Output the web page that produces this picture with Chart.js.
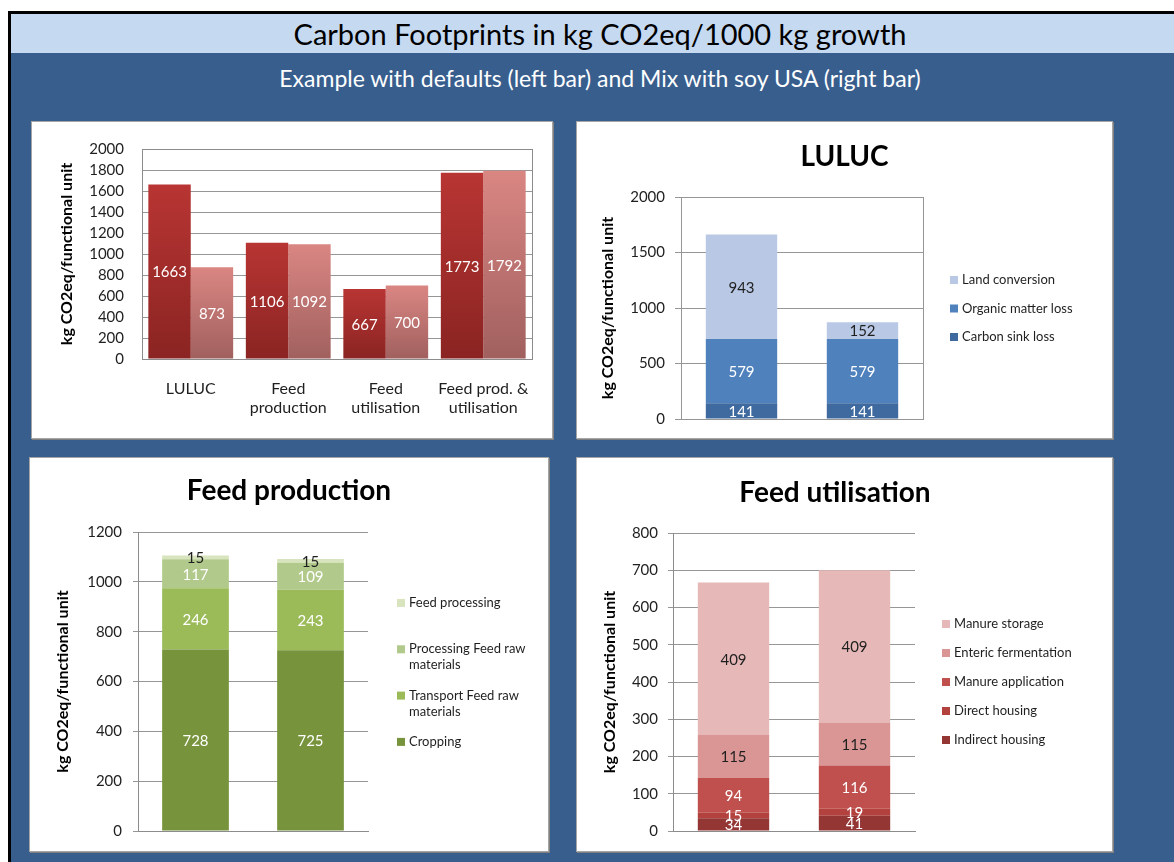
<!DOCTYPE html>
<html>
<head>
<meta charset="utf-8">
<script src="https://cdn.jsdelivr.net/npm/chart.js@4.4.1/dist/chart.umd.min.js"></script>
<style>
  html, body { margin: 0; padding: 0; background: #fff; }
  body { width: 1174px; height: 862px; position: relative; overflow: hidden; font-family: Lato, "Open Sans", sans-serif; }
  #frame { position: absolute; left: 8px; top: 11px; width: 1200px; height: 900px; border-left: 3px solid #000; border-top: 3px solid #000; background: #385e8e; }
  #band { position: absolute; left: 11px; top: 14px; width: 1200px; height: 39px; background: #c5d9f1; }
  #title { position: absolute; left: 0; width: 1200px; top: 17px; text-align: center; font-size: 29px; color: #000; line-height: 34px; }
  #subtitle { position: absolute; left: 0; width: 1200px; top: 64px; text-align: center; font-size: 23px; color: #fff; line-height: 28px; }
  .panel { position: absolute; background: #fff; border: 1px solid #a5a5a5; box-shadow: 1px 1px 0 #808080; }
  .panel canvas { display: block; }
</style>
</head>
<body>
<div id="frame"></div>
<div id="band"></div>
<div id="title">Carbon Footprints in kg CO2eq/1000 kg growth</div>
<div id="subtitle">Example with defaults (left bar) and Mix with soy USA (right bar)</div>

<div class="panel" style="left:31px;top:121px;width:520px;height:316px"><canvas id="overview" width="520" height="316"></canvas></div>
<div class="panel" style="left:576px;top:121px;width:535px;height:316px"><canvas id="luluc" width="535" height="316"></canvas></div>
<div class="panel" style="left:29px;top:457px;width:518px;height:393px"><canvas id="feedprod" width="518" height="393"></canvas></div>
<div class="panel" style="left:576px;top:457px;width:535px;height:393px"><canvas id="feeduse" width="535" height="393"></canvas></div>

<script>
// --- DATA ---
const scenarios = ['Defaults', 'Mix with soy USA'];

const overviewCats = ['LULUC', ['Feed', 'production'], ['Feed', 'utilisation'], ['Feed prod. &', 'utilisation']];
const overviewDefaults = [1663, 1106, 667, 1773];
const overviewSoyUSA   = [873, 1092, 700, 1792];

const lulucCarbonSink  = [141, 141];
const lulucOrganic     = [579, 579];
const lulucLandConv    = [943, 152];

const fpCropping       = [728, 725];
const fpTransport      = [246, 243];
const fpProcessingRaw  = [117, 109];
const fpFeedProcessing = [15, 15];

const fuIndirect       = [34, 41];
const fuDirect         = [15, 19];
const fuManureApp      = [94, 116];
const fuEnteric        = [115, 115];
const fuManureStorage  = [409, 409];

const yTitle = 'kg CO2eq/functional unit';

// --- réglages communs ---
Chart.defaults.font.family = 'Lato, "Open Sans", sans-serif';
Chart.defaults.color = '#1f1f1f';
Chart.defaults.animation = false;

// etiquettes de valeur au milieu de chaque segment
const valueLabels = {
  id: 'valueLabels',
  afterDatasetsDraw(chart) {
    const ctx = chart.ctx;
    ctx.save();
    ctx.font = '15px Lato, "Open Sans", sans-serif';
    ctx.textAlign = 'center';
    ctx.textBaseline = 'middle';
    chart.data.datasets.forEach((ds, i) => {
      const meta = chart.getDatasetMeta(i);
      meta.data.forEach((bar, j) => {
        ctx.fillStyle = ds.labelColor || '#fff';
        ctx.fillText(String(ds.data[j]), bar.x, (bar.y + bar.base) / 2 + 1);
      });
    });
    ctx.restore();
  }
};

// legende a droite (ordre inverse, comme Excel)
const sideLegend = {
  id: 'sideLegend',
  afterDraw(chart, args, opts) {
    if (!opts || opts.x === undefined) return;
    const ctx = chart.ctx;
    ctx.save();
    ctx.font = '13px Lato, "Open Sans", sans-serif';
    ctx.textBaseline = 'middle';
    ctx.textAlign = 'left';
    chart.data.datasets.slice().reverse().forEach((ds, k) => {
      const y = opts.y + k * opts.gap;
      ctx.fillStyle = ds.backgroundColor;
      ctx.fillRect(opts.x, y - 4, 8, 8);
      ctx.fillStyle = '#1f1f1f';
      ds.label.split('\n').forEach((line, n) => ctx.fillText(line, opts.x + 12, y + n * 16));
    });
    ctx.restore();
  }
};

// cadre de la zone de tracé
const plotBorder = {
  id: 'plotBorder',
  beforeDatasetsDraw(chart, args, opts) {
    if (!opts || !opts.color) return;
    const {ctx, chartArea: a} = chart;
    ctx.save();
    ctx.strokeStyle = opts.color;
    ctx.lineWidth = 1;
    ctx.strokeRect(Math.round(a.left) + 0.5, Math.round(a.top) + 0.5, Math.round(a.width), Math.round(a.height));
    ctx.restore();
  }
};

Chart.register(valueLabels, sideLegend, plotBorder);

function barGradient(top, bottom) {
  return (c) => {
    const {ctx, chartArea, scales} = c.chart;
    if (!chartArea || !c.parsed) return bottom;
    const y0 = scales.y.getPixelForValue(c.parsed.y);
    const y1 = scales.y.getPixelForValue(0);
    const g = ctx.createLinearGradient(0, y0, 0, y1);
    g.addColorStop(0, top);
    g.addColorStop(1, bottom);
    return g;
  };
}

// axe y : largeur fixe, titre place avec titlePad
function yAxis(max, step, width, titlePad, tickLen, pad, stacked) {
  return {
    stacked: stacked,
    min: 0, max: max,
    ticks: { stepSize: step, padding: pad, font: { size: 15 }, color: '#1f1f1f', callback: (v) => String(v) },
    grid: { color: '#969696', drawTicks: tickLen > 0, tickLength: tickLen, tickColor: '#969696' },
    border: { display: true, color: '#8c8c8c' },
    title: { display: true, text: yTitle, color: '#000', font: { size: 16, weight: 'bold' }, padding: { top: titlePad, bottom: 0 } },
    afterFit: (s) => { s.width = width; }
  };
}

// axe vide a droite : reserve la place de la legende
function spacerAxis(width) {
  return {
    position: 'right',
    ticks: { display: false },
    grid: { display: false, drawTicks: false },
    border: { display: false },
    afterFit: (s) => { s.width = width; }
  };
}

function stackedX() {
  return {
    stacked: true,
    ticks: { display: false },
    grid: { display: false, drawTicks: false },
    border: { display: true, color: '#8c8c8c' },
    afterFit: (s) => { s.height = 0; }
  };
}

function titleOpts(text, padTop, padBottom) {
  return { display: true, text: text, color: '#000', font: { size: 28, weight: 'bold' }, padding: { top: padTop, bottom: padBottom } };
}

// --- 1 : vue d'ensemble ---
new Chart(document.getElementById('overview'), {
  type: 'bar',
  data: {
    labels: overviewCats,
    datasets: [
      { label: scenarios[0], data: overviewDefaults, backgroundColor: barGradient('#b83533', '#8a2422'), labelColor: '#fff',
        categoryPercentage: 0.87, barPercentage: 1.0 },
      { label: scenarios[1], data: overviewSoyUSA, backgroundColor: barGradient('#da8683', '#a0605e'), labelColor: '#fff',
        categoryPercentage: 0.87, barPercentage: 1.0 }
    ]
  },
  options: {
    responsive: false,
    layout: { padding: { left: 0, top: 20, right: 20, bottom: 0 } },
    plugins: { legend: { display: false }, tooltip: { enabled: false }, plotBorder: { color: '#8c8c8c' } },
    scales: {
      x: {
        ticks: { padding: 20, font: { size: 16 }, color: '#1f1f1f', maxRotation: 0 },
        grid: { display: false, drawTicks: false },
        border: { display: true, color: '#8c8c8c' },
        afterFit: (s) => { s.height = 79; }
      },
      y: yAxis(2000, 200, 110, 25.4, 0, 18, false)
    }
  }
});

// --- 2 : LULUC ---
new Chart(document.getElementById('luluc'), {
  type: 'bar',
  data: {
    labels: scenarios,
    datasets: [
      { label: 'Carbon sink loss', data: lulucCarbonSink, backgroundColor: '#3e6a9f', labelColor: '#fff' },
      { label: 'Organic matter loss', data: lulucOrganic, backgroundColor: '#4f81bd', labelColor: '#fff' },
      { label: 'Land conversion', data: lulucLandConv, backgroundColor: '#b9c9e5', labelColor: '#1f1f1f' }
    ]
  },
  options: {
    responsive: false,
    datasets: { bar: { categoryPercentage: 0.59, barPercentage: 1.0 } },
    layout: { padding: { left: 0, top: 0, right: 0, bottom: 19 } },
    plugins: {
      legend: { display: false }, tooltip: { enabled: false },
      title: titleOpts('LULUC', 18.2, 23.2),
      sideLegend: { x: 373, y: 158, gap: 28.5 },
      plotBorder: { color: '#969696' }
    },
    scales: { x: stackedX(), y: yAxis(2000, 500, 104, 21.4, 6, 10, true), pad: spacerAxis(189) }
  }
});

// --- 3 : Feed production ---
new Chart(document.getElementById('feedprod'), {
  type: 'bar',
  data: {
    labels: scenarios,
    datasets: [
      { label: 'Cropping', data: fpCropping, backgroundColor: '#77933c', labelColor: '#fff' },
      { label: 'Transport Feed raw\nmaterials', data: fpTransport, backgroundColor: '#9bbb59', labelColor: '#fff' },
      { label: 'Processing Feed raw\nmaterials', data: fpProcessingRaw, backgroundColor: '#b1c98a', labelColor: '#fff' },
      { label: 'Feed processing', data: fpFeedProcessing, backgroundColor: '#d7e4bd', labelColor: '#1f1f1f' }
    ]
  },
  options: {
    responsive: false,
    datasets: { bar: { categoryPercentage: 0.58, barPercentage: 1.0 } },
    layout: { padding: { left: 0, top: 0, right: 0, bottom: 20 } },
    plugins: {
      legend: { display: false }, tooltip: { enabled: false },
      title: titleOpts('Feed production', 16.2, 24.2),
      sideLegend: { x: 367, y: 145, gap: 46.3 }
    },
    scales: { x: stackedX(), y: yAxis(1200, 200, 108, 23.4, 5, 11, true), pad: spacerAxis(180) }
  }
});

// --- 4 : Feed utilisation ---
new Chart(document.getElementById('feeduse'), {
  type: 'bar',
  data: {
    labels: scenarios,
    datasets: [
      { label: 'Indirect housing', data: fuIndirect, backgroundColor: '#943634', labelColor: '#fff' },
      { label: 'Direct housing', data: fuDirect, backgroundColor: '#b3423f', labelColor: '#fff' },
      { label: 'Manure application', data: fuManureApp, backgroundColor: '#c0504d', labelColor: '#fff' },
      { label: 'Enteric fermentation', data: fuEnteric, backgroundColor: '#d99694', labelColor: '#1f1f1f' },
      { label: 'Manure storage', data: fuManureStorage, backgroundColor: '#e6b9b8', labelColor: '#1f1f1f' }
    ]
  },
  options: {
    responsive: false,
    datasets: { bar: { categoryPercentage: 0.59, barPercentage: 1.0 } },
    layout: { padding: { left: 0, top: 0, right: 19, bottom: 20 } },
    plugins: {
      legend: { display: false }, tooltip: { enabled: false },
      title: titleOpts('Feed utilisation', 18.2, 23.2),
      sideLegend: { x: 365, y: 166, gap: 29 }
    },
    scales: { x: stackedX(), y: yAxis(800, 100, 96, 23.4, 5, 10, true), pad: spacerAxis(178) }
  }
});
</script>
</body>
</html>
